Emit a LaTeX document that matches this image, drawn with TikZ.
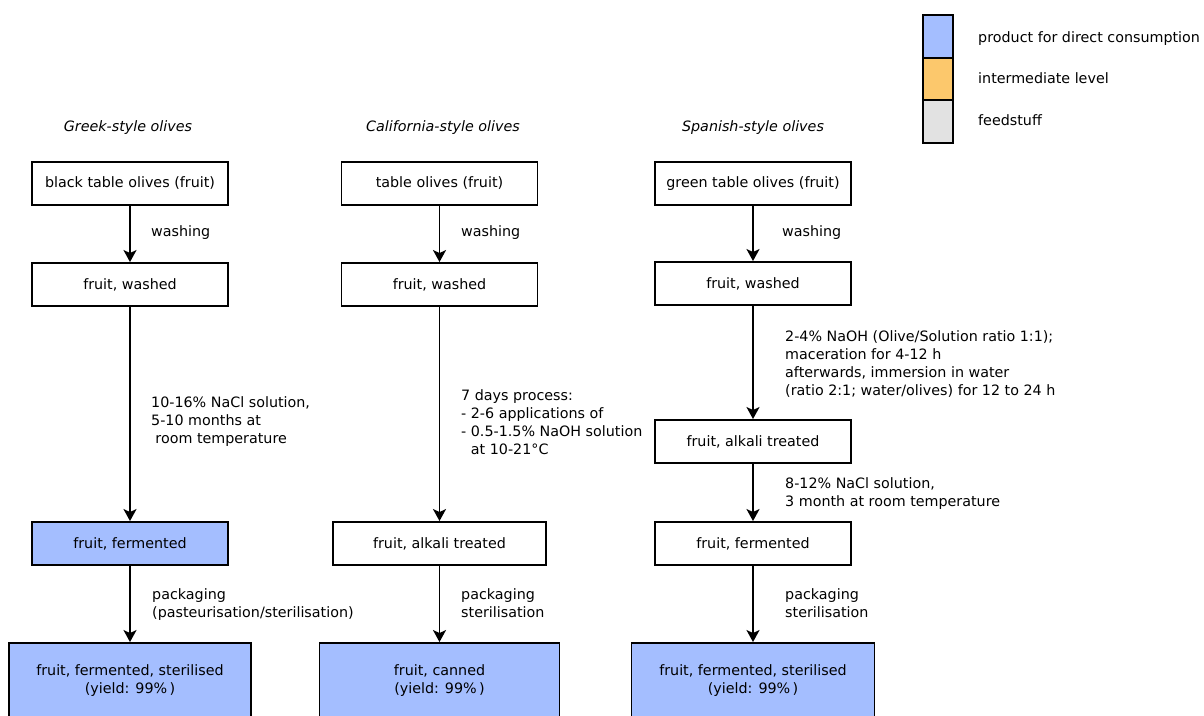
\documentclass[tikz,border=0pt]{standalone}
\usepackage{fontspec}
\setmainfont{DejaVu Sans}
\usetikzlibrary{arrows.meta}
\definecolor{prodblue}{RGB}{164,190,255}
\definecolor{midorange}{RGB}{252,200,108}
\definecolor{feedgrey}{RGB}{226,226,226}
\begin{document}
\begin{tikzpicture}[x=1pt,y=-1pt,
  font=\fontsize{14.3}{18}\selectfont,
  stage/.style={draw, line width=1.9pt, minimum width=196pt, minimum height=43pt,
    inner sep=0pt, align=center},
  product/.style={stage, fill=prodblue},
  flow/.style={-{Stealth[length=12pt,width=13pt,inset=3pt]}, line width=1.9pt},
  note/.style={anchor=north west, inner sep=0pt, align=left},
  shortnote/.style={anchor=west, inner sep=0pt},
  heading/.style={inner sep=0pt, font=\fontsize{14.3}{18}\selectfont\itshape},
  keybox/.style={draw, line width=1.9pt, minimum width=30pt, inner sep=0pt}]
\useasboundingbox (0,0) rectangle (1204,715);
\clip (0,0) rectangle (1204,715);

% legend
\node[keybox, fill=prodblue, minimum height=43pt] (kprod) at (938,36.5) {};
\node[keybox, fill=midorange, minimum height=42pt] (kmid) at (938,79) {};
\node[keybox, fill=feedgrey, minimum height=43pt] (kfeed) at (938,121.5) {};
\node[shortnote] (tprod) at (978,39) {product for direct consumption};
\node[shortnote] (tmid) at (978,78) {intermediate level};
\node[shortnote] (tfeed) at (978,120) {feedstuff};

% column headings
\node[heading] (hg) at (128,128) {Greek-style olives};
\node[heading] (hc) at (443,128) {California-style olives};
\node[heading] (hs) at (753,128) {Spanish-style olives};

% Greek-style
\node[stage] (g1) at (130,183.5) {black table olives (fruit)};
\node[stage] (g2) at (130,284.5) {fruit, washed};
\node[product] (g3) at (130,543.5) {fruit, fermented};
\node[product, minimum width=242pt, minimum height=76pt] (g4) at (130,681)
  {fruit, fermented, sterilised\\(yield: 99\%\,)};
\draw[flow] (g1) -- (g2);
\draw[flow] (g2) -- (g3);
\draw[flow] (g3) -- (g4);
\node[shortnote] (gl1) at (151,233) {washing};
\node[note] (gl2) at (151,396) {10-16\% NaCl solution,\\5-10 months at\\\hspace*{0.3em}room temperature};
\node[note] (gl3) at (152,588) {packaging\\(pasteurisation/sterilisation)};

% California-style
\node[stage] (c1) at (439.5,183.5) {table olives (fruit)};
\node[stage] (c2) at (439.5,284.5) {fruit, washed};
\node[stage, minimum width=213pt] (c3) at (439.5,543.5) {fruit, alkali treated};
\node[product, minimum width=240pt, minimum height=76pt] (c4) at (439.5,681)
  {fruit, canned\\(yield: 99\%\,)};
\draw[flow] (c1) -- (c2);
\draw[flow] (c2) -- (c3);
\draw[flow] (c3) -- (c4);
\node[shortnote] (cl1) at (461,233) {washing};
\node[note] (cl2) at (461,389) {7 days process:\\- 2-6 applications of\\- 0.5-1.5\% NaOH solution\\\phantom{-} at 10-21°C};
\node[note] (cl3) at (461,588) {packaging\\sterilisation};

% Spanish-style
\node[stage] (s1) at (753,183.5) {green table olives (fruit)};
\node[stage] (s2) at (753,283.5) {fruit, washed};
\node[stage] (s3) at (753,441.5) {fruit, alkali treated};
\node[stage] (s4) at (753,543.5) {fruit, fermented};
\node[product, minimum width=243pt, minimum height=76pt] (s5) at (753,681)
  {fruit, fermented, sterilised\\(yield: 99\%\,)};
\draw[flow] (s1) -- (s2);
\draw[flow] (s2) -- (s3);
\draw[flow] (s3) -- (s4);
\draw[flow] (s4) -- (s5);
\node[shortnote] (sl1) at (782,233) {washing};
\node[note] (sl2) at (785,330) {2-4\% NaOH (Olive/Solution ratio 1:1);\\maceration for 4-12 h\\afterwards, immersion in water\\(ratio 2:1; water/olives) for 12 to 24 h};
\node[note] (sl3) at (785,477) {8-12\% NaCl solution,\\3 month at room temperature};
\node[note] (sl4) at (785,588) {packaging\\sterilisation};
\end{tikzpicture}
\end{document}
